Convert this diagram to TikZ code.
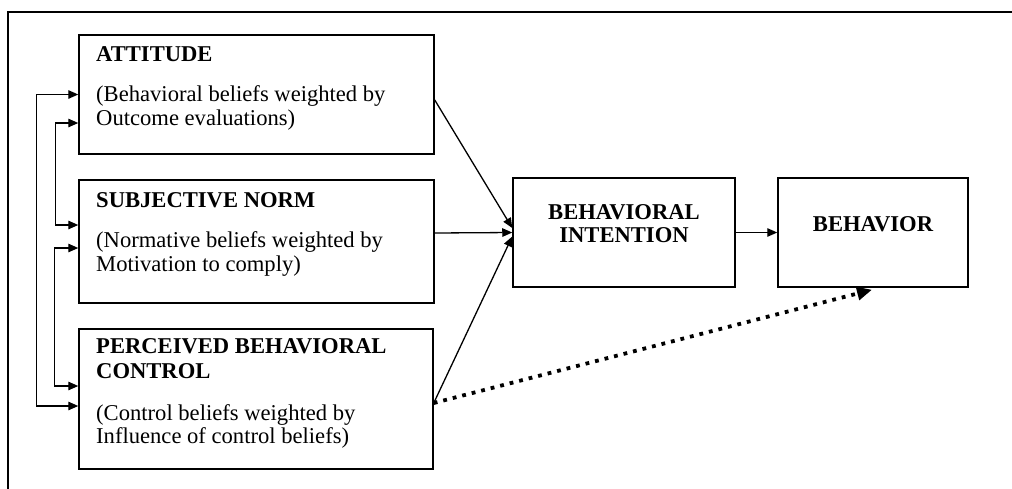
\documentclass[tikz,border=0pt]{standalone}
\usepackage{fontspec}
\setmainfont{Liberation Serif}
\usetikzlibrary{arrows.meta}
\tikzset{
  box/.style={draw, line width=1.5pt, inner sep=0pt, rectangle},
  txt/.style={inner sep=0pt, anchor=base west, font=\fontsize{22.6}{24}\selectfont},
  hd/.style={txt, font=\fontsize{22.6}{24}\selectfont\bfseries},
  hdc/.style={inner sep=0pt, anchor=base, font=\fontsize{22.6}{24}\selectfont\bfseries},
  arr/.style={line width=1.3pt, -{Triangle[length=10pt,width=8.5pt]}},
  dbl/.style={line width=1.4pt, {Triangle[length=10pt,width=8.5pt]}-{Triangle[length=10pt,width=8.5pt]}},
  dotarr/.style={line width=3.8pt, dash pattern=on 3.8pt off 6pt, -{Triangle[length=15pt,width=13pt]}},
  frame/.style={line width=1.5pt}
}
\begin{document}
\begin{tikzpicture}[x=1pt,y=-1pt]
\useasboundingbox (0,0) rectangle (1012,488);
\draw[frame] (8,490) -- (8,12) -- (1014,12);

% boxes
\node[box, minimum width=355pt, minimum height=119pt] (att) at (256.5,94.5) {};
\node[box, minimum width=355pt, minimum height=123pt] (sn) at (256.5,241.5) {};
\node[box, minimum width=354pt, minimum height=140pt] (pbc) at (256,399) {};
\node[box, minimum width=222pt, minimum height=109pt] (bi) at (624,232.5) {};
\node[box, minimum width=190pt, minimum height=109pt] (beh) at (873,232.5) {};

% texts
\node[hd] (attH) at (96,61) {ATTITUDE};
\node[txt] (attT1) at (96,101) {(Behavioral beliefs weighted by};
\node[txt] (attT2) at (96,125) {Outcome evaluations)};

\node[hd] (snH) at (96,207) {SUBJECTIVE NORM};
\node[txt] (snT1) at (96,247) {(Normative beliefs weighted by};
\node[txt] (snT2) at (96,271) {Motivation to comply)};

\node[hd] (pbcH1) at (96,353) {PERCEIVED BEHAVIORAL};
\node[hd] (pbcH2) at (96,378) {CONTROL};
\node[txt] (pbcT1) at (96,420) {(Control beliefs weighted by};
\node[txt] (pbcT2) at (96,443) {Influence of control beliefs)};

\node[hdc] (biH1) at (624,219) {BEHAVIORAL};
\node[hdc] (biH2) at (624,242) {INTENTION};
\node[hdc] (behH) at (873,231) {BEHAVIOR};

% correlations on the left
\draw[dbl] (att.west) -- ++(-42,0) |- ([yshift=-7pt]pbc.west);
\draw[dbl] ([yshift=-28.5pt]att.west) -- ++(-23,0) |- ([yshift=16.5pt]sn.west);
\draw[dbl] ([yshift=-6.5pt]sn.west) -- ++(-24,0) |- ([yshift=13pt]pbc.west);

% paths to intention
\draw[arr] ([yshift=-5.5pt]att.east) -- ([yshift=4.5pt]bi.west);
\draw[arr] ([yshift=8.5pt]sn.east) -- (bi.west);
\draw[arr] ([yshift=-4pt]pbc.east) -- ([yshift=-4pt]bi.west);
\draw[arr] (bi.east) -- (beh.west);
\draw[dotarr] ([yshift=-4pt]pbc.east) -- ([xshift=-1pt,yshift=-2pt]beh.south);
\end{tikzpicture}
\end{document}
